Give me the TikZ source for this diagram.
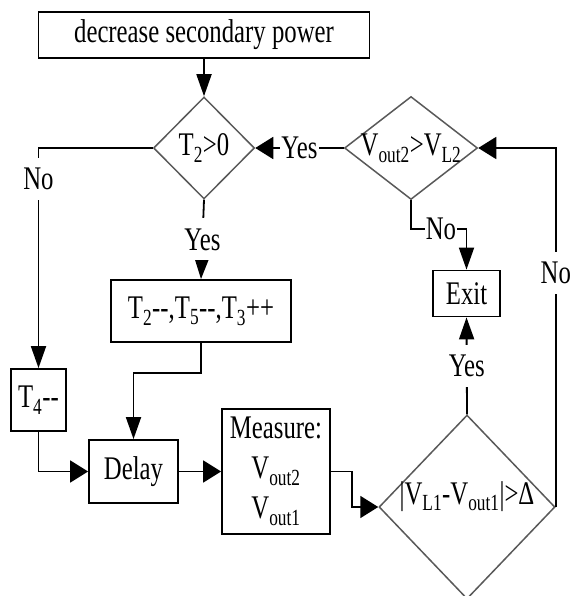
\documentclass[tikz,border=0pt]{standalone}
\usepackage{fontspec}
\setmainfont{Liberation Serif}[FakeStretch=0.75]
\usetikzlibrary{arrows.meta, shapes.geometric}

\begin{document}
\begin{tikzpicture}[
  x=1pt, y=-1pt,
  font=\fontsize{33}{40}\selectfont,
  box/.style={draw, line width=1.8pt, align=center, inner sep=0pt},
  cond/.style={diamond, draw=black!65, line width=1.5pt, inner sep=0pt},
  lab/.style={fill=white, inner xsep=1pt, inner ysep=10pt},
  varr/.style={line width=1.8pt, -{Triangle[length=22pt, width=15pt]}},
  harr/.style={line width=1.8pt, -{Triangle[length=18pt, width=22pt]}},
]
\useasboundingbox (0,0) rectangle (571,596);

% ---------------------------------------------------------------
% boxes and tests
% ---------------------------------------------------------------
\node[box, minimum width=331pt, minimum height=46pt] (dec) at (204,35) {decrease secondary power};
\node[cond, minimum width=101pt, minimum height=102pt] (tpos) at (204,148) {\makebox[0pt]{T\textsubscript{2}>0}};
\node[cond, minimum width=133pt, minimum height=103pt] (vout) at (411,148) {\makebox[0pt]{V\textsubscript{out2}>V\textsubscript{L2}}};
\node[box, minimum width=180pt, minimum height=62pt] (tdec) at (201,311) {T\textsubscript{2}-{}-,T\textsubscript{5}-{}-,T\textsubscript{3}++};
\node[box, minimum width=55pt, minimum height=62pt] (tfour) at (38.5,400) {T\textsubscript{4}-{}-};
\node[box, minimum width=89pt, minimum height=63pt] (delay) at (133.5,471.5) {Delay};
\node[box, minimum width=108pt, minimum height=125pt] (meas) at (276,471.5) {Measure:\\V\textsubscript{out2}\\V\textsubscript{out1}};
\node[cond, minimum width=176pt, minimum height=184pt] (diff) at (467,507) {\makebox[0pt]{\raisebox{3pt}[0pt][0pt]{|V\textsubscript{L1}-V\textsubscript{out1}|>Δ}}};
\node[box, minimum width=67pt, minimum height=46pt] (exit) at (466.5,293.5) {Exit};

% ---------------------------------------------------------------
% connectors
% ---------------------------------------------------------------
\draw[varr] (dec.south) -- (tpos.north);
\draw[harr] (vout.west) -- (tpos.east) node[midway, lab]{Yes};
\draw[varr] (tpos.west) -| (tfour.north) node[pos=0.57, lab]{No};
\draw[varr] (tpos.south) -- (tdec.north) node[midway, lab]{Yes};
\draw[varr] (tdec.south) -- ++(0,30) -| (delay.north);
\draw[harr] (tfour.south) |- (delay.west);
\draw[harr] (delay.east) -- (meas.west);
\draw[harr] (meas.east) -- ++(21,0) |- (diff.west);
\draw[varr] (diff.north) -- (exit.south) node[midway, lab]{Yes};
\draw[harr] (diff.east) |- (vout.east) node[pos=0.326, lab]{No};
\draw[varr] (vout.south) -- ++(0,29) -| node[pos=0.27, lab]{No} (exit.north);

\end{tikzpicture}
\end{document}
